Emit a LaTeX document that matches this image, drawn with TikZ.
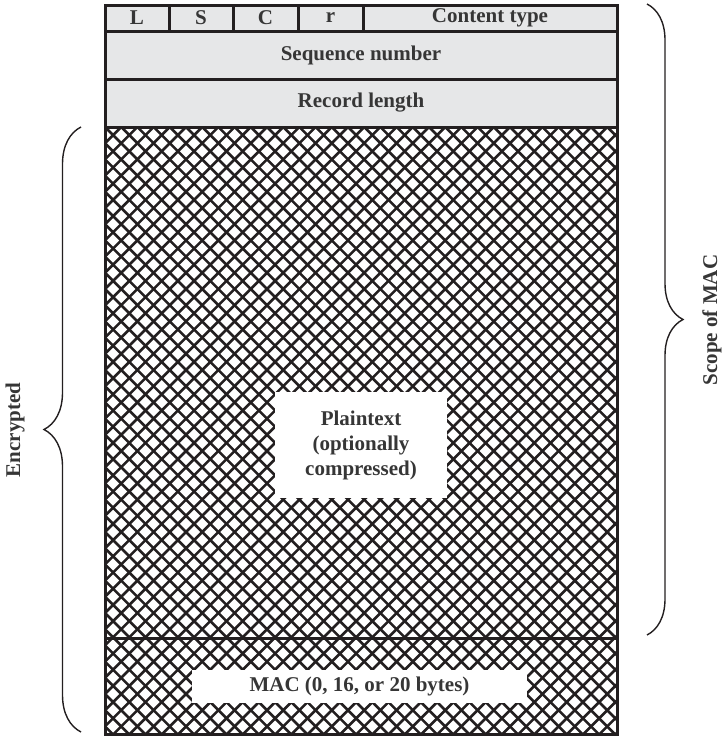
\documentclass[tikz,border=0pt]{standalone}
\usepackage{fontspec}
\setmainfont{Liberation Serif}
\usetikzlibrary{positioning, decorations.pathreplacing}
\definecolor{hdrgray}{HTML}{E6E7E8}
\definecolor{inkblack}{HTML}{231F20}
\definecolor{txtgray}{HTML}{363636}
\newcommand{\fieldfont}{\fontsize{21}{25}\selectfont\bfseries}

\begin{document}
\begin{tikzpicture}[x=1pt, y=-1pt,
  field/.style={draw=inkblack, line width=3pt, fill=hdrgray, inner sep=0pt,
    outer sep=0pt, anchor=north west, text=txtgray, font=\fieldfont},
  frame/.style={draw=inkblack, line width=3pt, inner sep=0pt, outer sep=0pt,
    anchor=north west},
  hatchline/.style={inkblack, line width=2.6pt},
  whitelabel/.style={fill=white, inner sep=0pt, text=txtgray, font=\fieldfont,
    align=center},
  bracket/.style={inkblack, line width=1.4pt, decorate},
  sidelabel/.style={rotate=90, text=txtgray, font=\fieldfont}]

\useasboundingbox (0,0) rectangle (721,736);

% --- Crosshatch behind the encrypted part ---
\begin{scope}
\clip (105,127) rectangle (617,734);
\foreach \k in {-40,...,80}{
  \draw[hatchline] ({105+16.2*\k},127) -- ++(640,640);
  \draw[hatchline] ({105+16.2*\k},127) -- ++(-640,640);
}
\end{scope}

% --- Header fields ---
\node[field, minimum width=64pt, minimum height=26pt] (lflag) at (105,5) {L};
\node[field, minimum width=64pt, minimum height=26pt] (sflag) at (169,5) {S};
\node[field, minimum width=65pt, minimum height=26pt] (cflag) at (233,5) {C};
\node[field, minimum width=65pt, minimum height=26pt] (rflag) at (298,5) {r};
\node[field, minimum width=254pt, minimum height=26pt] (ctype) at (363,5) {Content type};
\node[field, minimum width=512pt, minimum height=48pt] (seqnum) at (105,31) {Sequence number};
\node[field, minimum width=512pt, minimum height=48pt] (reclen) at (105,79) {Record length};

% --- Payload and MAC frames ---
\node[frame, minimum width=512pt, minimum height=511pt] (payload) at (105,127) {};
\node[frame, minimum width=512pt, minimum height=96pt] (macarea) at (105,638) {};

\node[whitelabel, minimum width=172pt, minimum height=106pt] (plain) at (361,445)
  {Plaintext\\(optionally\\compressed)};
\node[whitelabel, minimum width=335pt, minimum height=33pt] (mac) at (359.5,686.5)
  {MAC (0, 16, or 20 bytes)};

% --- Braces ---
\coordinate (enclow) at (81,732);
\coordinate (enchigh) at (81,127);
\coordinate (scopetop) at (647,4);
\coordinate (scopebot) at (647,635);

\draw[bracket, decoration={brace, amplitude=37pt}] (enclow) -- (enchigh);
\draw[bracket, decoration={brace, amplitude=36pt}] (scopetop) -- (scopebot);

\node[sidelabel] (enclabel) at (15,430) {Encrypted};
\node[sidelabel] (scopelabel) at (712,320) {Scope of MAC};

\end{tikzpicture}
\end{document}
